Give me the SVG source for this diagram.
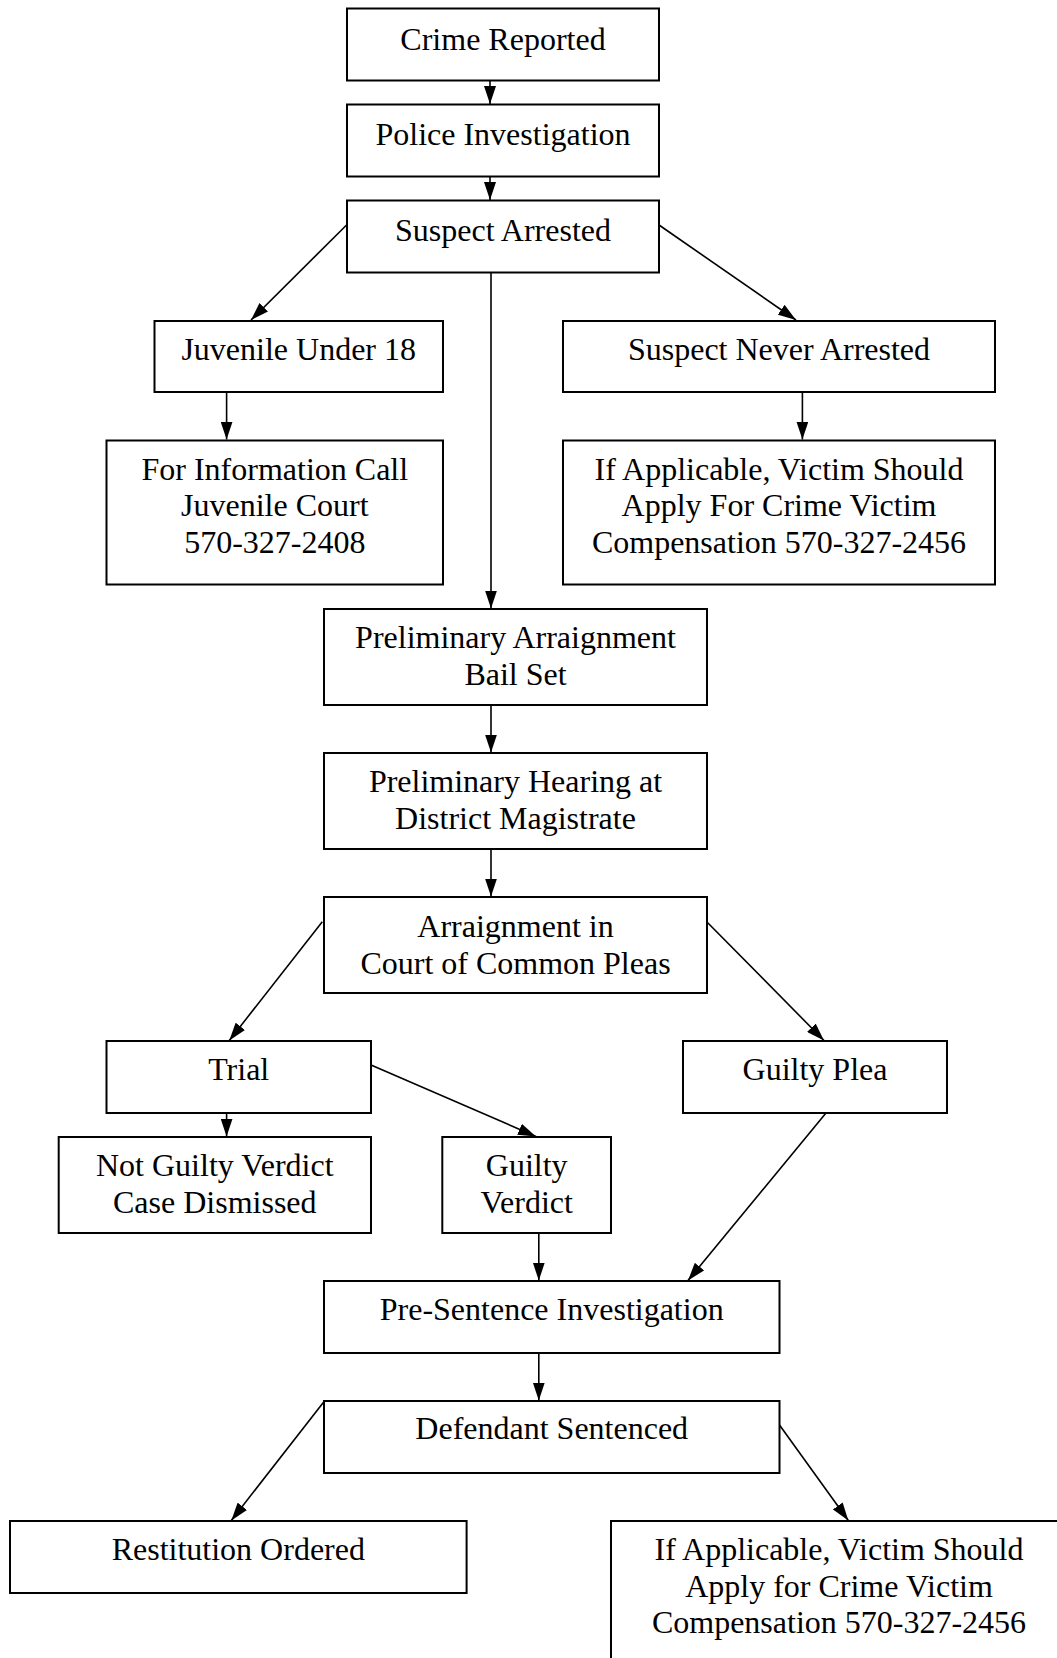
<svg xmlns="http://www.w3.org/2000/svg" width="1057" height="1658" viewBox="0 0 1057 1658">
<style>
.box{fill:#fff;stroke:#000;stroke-width:2}
.t{font-family:"Liberation Serif","Times New Roman",serif;font-size:32px;fill:#000;text-anchor:middle}
.c{stroke:#000;stroke-width:1.6;fill:none;marker-end:url(#ah)}
</style>
<defs>
<marker id="ah" markerUnits="userSpaceOnUse" markerWidth="18" markerHeight="12" refX="18" refY="6" orient="auto">
<path d="M0,0 L18,6 L0,12 z" fill="#000"/>
</marker>
</defs>
<rect width="1057" height="1658" fill="#fff"/>
<g id="connectors">
<line class="c" x1="490" y1="81" x2="490" y2="104"/>
<line class="c" x1="490" y1="177" x2="490" y2="200"/>
<line class="c" x1="346.6" y1="225" x2="251" y2="320"/>
<line class="c" x1="659" y1="225" x2="796" y2="320"/>
<line class="c" x1="491" y1="273" x2="491" y2="608.5"/>
<line class="c" x1="226.6" y1="392" x2="226.6" y2="439.5"/>
<line class="c" x1="802.4" y1="392" x2="802.4" y2="439.5"/>
<line class="c" x1="491" y1="705" x2="491" y2="752.5"/>
<line class="c" x1="491" y1="849" x2="491" y2="896.5"/>
<line class="c" x1="322.3" y1="921.7" x2="229.3" y2="1040.5"/>
<line class="c" x1="706.7" y1="921.7" x2="824" y2="1040.5"/>
<line class="c" x1="226.6" y1="1113" x2="226.6" y2="1136.5"/>
<line class="c" x1="371" y1="1065" x2="536" y2="1136.5"/>
<line class="c" x1="538.8" y1="1233" x2="538.8" y2="1280.5"/>
<line class="c" x1="826" y1="1113" x2="688" y2="1280.5"/>
<line class="c" x1="538.8" y1="1353" x2="538.8" y2="1400.5"/>
<line class="c" x1="323.7" y1="1402" x2="231.3" y2="1520.5"/>
<line class="c" x1="779.5" y1="1425" x2="848.3" y2="1520.5"/>
</g>
<g id="crime-reported"><rect class="box" x="347" y="8.5" width="312" height="72"/><text class="t" x="503" y="49.5">Crime Reported</text></g>
<g id="police-investigation"><rect class="box" x="347" y="104.5" width="312" height="72"/><text class="t" x="503" y="145">Police Investigation</text></g>
<g id="suspect-arrested"><rect class="box" x="347" y="200.5" width="312" height="72"/><text class="t" x="503" y="241">Suspect Arrested</text></g>
<g id="juvenile"><rect class="box" x="154.5" y="321" width="288.5" height="71"/><text class="t" x="298.7" y="360">Juvenile Under 18</text></g>
<g id="never-arrested"><rect class="box" x="563" y="321" width="432" height="71"/><text class="t" x="779" y="360">Suspect Never Arrested</text></g>
<g id="for-information"><rect class="box" x="106.5" y="440.5" width="336.5" height="144"/><text class="t" x="274.8" y="479.5">For Information Call</text><text class="t" x="274.8" y="516">Juvenile Court</text><text class="t" x="274.8" y="552.5">570-327-2408</text></g>
<g id="if-applicable-1"><rect class="box" x="563" y="440.5" width="432" height="144"/><text class="t" x="779" y="479.5">If Applicable, Victim Should</text><text class="t" x="779" y="516">Apply For Crime Victim</text><text class="t" x="779" y="552.5">Compensation 570-327-2456</text></g>
<g id="preliminary-arraignment"><rect class="box" x="324" y="609" width="383" height="96"/><text class="t" x="515.5" y="648">Preliminary Arraignment</text><text class="t" x="515.5" y="685">Bail Set</text></g>
<g id="preliminary-hearing"><rect class="box" x="324" y="753" width="383" height="96"/><text class="t" x="515.5" y="792">Preliminary Hearing at</text><text class="t" x="515.5" y="828.5">District Magistrate</text></g>
<g id="arraignment"><rect class="box" x="324" y="897" width="383" height="96"/><text class="t" x="515.5" y="937">Arraignment in</text><text class="t" x="515.5" y="973.5">Court of Common Pleas</text></g>
<g id="trial"><rect class="box" x="106.5" y="1041" width="264.5" height="72"/><text class="t" x="238.7" y="1080">Trial</text></g>
<g id="guilty-plea"><rect class="box" x="683" y="1041" width="264" height="72"/><text class="t" x="815" y="1080">Guilty Plea</text></g>
<g id="not-guilty"><rect class="box" x="58.7" y="1137" width="312.3" height="96"/><text class="t" x="214.8" y="1176">Not Guilty Verdict</text><text class="t" x="214.8" y="1212.5">Case Dismissed</text></g>
<g id="guilty-verdict"><rect class="box" x="442.3" y="1137" width="168.7" height="96"/><text class="t" x="526.7" y="1176">Guilty</text><text class="t" x="526.7" y="1212.5">Verdict</text></g>
<g id="pre-sentence"><rect class="box" x="324" y="1281" width="455.5" height="72"/><text class="t" x="551.7" y="1320">Pre-Sentence Investigation</text></g>
<g id="defendant-sentenced"><rect class="box" x="324" y="1401" width="455.5" height="72"/><text class="t" x="551.7" y="1438.5">Defendant Sentenced</text></g>
<g id="restitution"><rect class="box" x="10" y="1521" width="456.6" height="72"/><text class="t" x="238.3" y="1560">Restitution Ordered</text></g>
<g id="if-applicable-2"><rect class="box" x="611" y="1521" width="456" height="144"/><text class="t" x="839" y="1560">If Applicable, Victim Should</text><text class="t" x="839" y="1596.7">Apply for Crime Victim</text><text class="t" x="839" y="1633.3">Compensation 570-327-2456</text></g>
</svg>
